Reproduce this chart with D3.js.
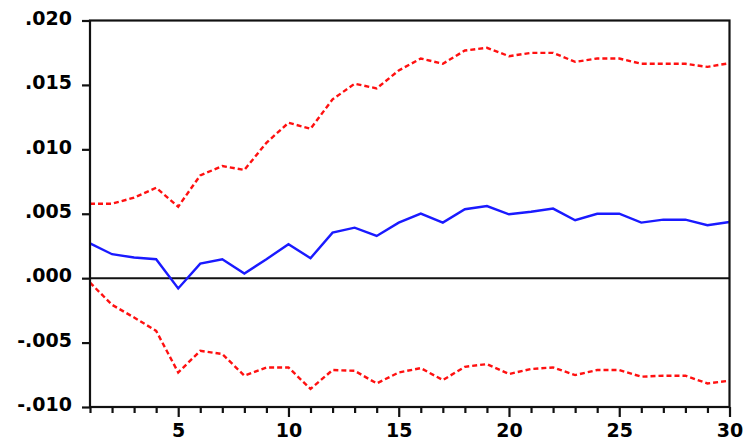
<!DOCTYPE html>
<html>
<head>
<meta charset="utf-8">
<script src="https://cdn.jsdelivr.net/npm/d3@7"></script>
<style>
  html, body { margin: 0; padding: 0; background: #fff; }
  svg { display: block; }
  .tick text { font-family: "DejaVu Sans", sans-serif; font-weight: bold; font-size: 19px; fill: #000; }
</style>
</head>
<body>
<svg id="chart" width="750" height="440"></svg>
<script>
// Impulse response over 30 periods with upper / lower confidence bands
const periods = d3.range(1, 31);
const response = [0.0027, 0.00186, 0.0016, 0.00147, -0.0008, 0.00113, 0.00147, 0.00036, 0.00147, 0.00264,
                  0.00155, 0.00353, 0.00392, 0.00328, 0.00431, 0.00501, 0.00431, 0.00535, 0.0056, 0.00496,
                  0.00516, 0.0054, 0.0045, 0.005, 0.005, 0.00431, 0.00454, 0.00454, 0.00411, 0.00436];
const upperBand = [0.00578, 0.00578, 0.00625, 0.00702, 0.00555, 0.00798, 0.0087, 0.0084, 0.01051, 0.01206,
                   0.0116, 0.01388, 0.01509, 0.01473, 0.01612, 0.01705, 0.01664, 0.01767, 0.01788, 0.01723,
                   0.01749, 0.01749, 0.01679, 0.01705, 0.01705, 0.01664, 0.01664, 0.01664, 0.0164, 0.01669];
const lowerBand = [-0.00034, -0.00207, -0.00305, -0.00409, -0.00732, -0.00564, -0.00589, -0.00757, -0.00693, -0.00693,
                   -0.0086, -0.00713, -0.00719, -0.00817, -0.00732, -0.00698, -0.00791, -0.00688, -0.00667, -0.00744,
                   -0.00705, -0.00693, -0.00752, -0.00713, -0.00713, -0.00765, -0.00757, -0.00757, -0.00817, -0.00796];
const yTicks = [-0.010, -0.005, 0.000, 0.005, 0.010, 0.015, 0.020];
const yTickLabels = ["-.010", "-.005", ".000", ".005", ".010", ".015", ".020"];
const xTicks = [5, 10, 15, 20, 25, 30];

const svg = d3.select("#chart");
const plotLeft = 90, plotRight = 729.5, plotTop = 20.5, plotBottom = 407;

const x = d3.scaleLinear().domain([1, 30]).range([plotLeft, plotRight]);
const y = d3.scaleLinear().domain([-0.010, 0.020]).range([plotBottom, plotTop]);

// zero reference line
svg.append("line")
  .attr("x1", plotLeft).attr("x2", plotRight)
  .attr("y1", y(0)).attr("y2", y(0))
  .attr("stroke", "#111").attr("stroke-width", 2);

const line = d3.line().x((d, i) => x(periods[i])).y(d => y(d));

svg.append("path").datum(upperBand)
  .attr("d", line).attr("fill", "none")
  .attr("stroke", "#ff1010").attr("stroke-width", 2.4)
  .attr("stroke-dasharray", "5,3");

svg.append("path").datum(lowerBand)
  .attr("d", line).attr("fill", "none")
  .attr("stroke", "#ff1010").attr("stroke-width", 2.4)
  .attr("stroke-dasharray", "5,3");

svg.append("path").datum(response)
  .attr("d", line).attr("fill", "none")
  .attr("stroke", "#1a1aff").attr("stroke-width", 2.4);

// frame
svg.append("rect")
  .attr("x", plotLeft).attr("y", plotTop)
  .attr("width", plotRight - plotLeft).attr("height", plotBottom - plotTop)
  .attr("fill", "none").attr("stroke", "#111").attr("stroke-width", 2.2);

// y axis
const yAxis = d3.axisLeft(y).tickValues(yTicks)
  .tickFormat((d, i) => yTickLabels[i]).tickSize(8).tickPadding(10);
const gy = svg.append("g").attr("transform", `translate(${plotLeft},0)`).call(yAxis);
gy.select(".domain").remove();
gy.selectAll(".tick line").attr("stroke", "#111").attr("stroke-width", 2.2);
gy.selectAll(".tick text").attr("dy", "0.2em");

// x axis: minor ticks every period, labelled ticks every five
const gxMinor = svg.append("g").attr("transform", `translate(0,${plotBottom})`)
  .call(d3.axisBottom(x).tickValues(periods.filter(p => p % 5 !== 0)).tickSize(6).tickFormat(""));
gxMinor.select(".domain").remove();
gxMinor.selectAll(".tick line").attr("stroke", "#111").attr("stroke-width", 2.2);

const gx = svg.append("g").attr("transform", `translate(0,${plotBottom})`)
  .call(d3.axisBottom(x).tickValues(xTicks).tickSize(10).tickPadding(7).tickFormat(d3.format("d")));
gx.select(".domain").remove();
gx.selectAll(".tick line").attr("stroke", "#111").attr("stroke-width", 2.2);
</script>
</body>
</html>
